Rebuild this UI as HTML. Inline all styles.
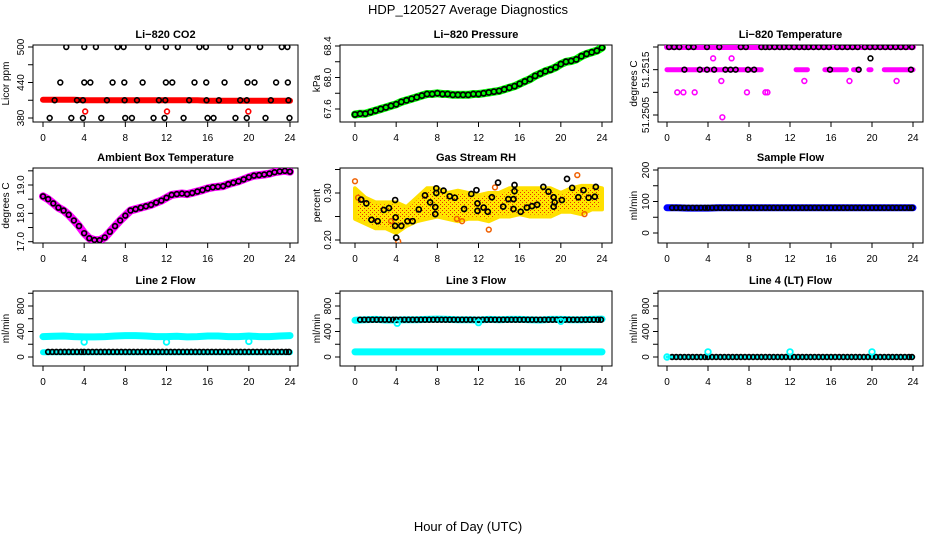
<!DOCTYPE html>
<html><head><meta charset="utf-8"><style>
html,body{margin:0;padding:0;background:#fff;}
svg{display:block;font-family:"Liberation Sans",sans-serif;}
</style></head><body>
<svg id="c" width="936" height="540" viewBox="0 0 936 540" xmlns="http://www.w3.org/2000/svg">
<rect width="936" height="540" fill="#fff"/>
<text x="468" y="14" font-size="13" text-anchor="middle">HDP_120527  Average Diagnostics</text>
<text x="468" y="531" font-size="13" text-anchor="middle">Hour of Day (UTC)</text>
</svg>
<script>
// ---------- data ----------
const hourTicks = [0,4,8,12,16,20,24];
const halfHours = [0,0.5,1,1.5,2,2.5,3,3.5,4,4.5,5,5.5,6,6.5,7,7.5,8,8.5,9,9.5,10,10.5,11,11.5,12,12.5,13,13.5,14,14.5,15,15.5,16,16.5,17,17.5,18,18.5,19,19.5,20,20.5,21,21.5,22,22.5,23,23.5,24];
const hours = [0,1,2,3,4,5,6,7,8,9,10,11,12,13,14,15,16,17,18,19,20,21,22,23,24];
const circleHours = [0.5,0.9,1.3,1.7,2.1,2.5,2.9,3.3,3.7,4,4.4,4.8,5.2,5.6,6,6.4,6.8,7.2,7.6,8,8.4,8.8,9.2,9.6,10,10.4,10.8,11.2,11.6,12,12.4,12.8,13.2,13.6,14,14.4,14.8,15.2,15.6,16,16.4,16.8,17.2,17.6,18,18.4,18.8,19.2,19.6,20,20.4,20.8,21.2,21.6,22,22.4,22.8,23.2,23.6,23.9];

const co2Band = [411,411,411,411,410,410,410,410,410,410,410,410,410,410,410,410,409,409,409,409,409,409,409,409,409];
const co2BlackHours = [2.26,4.01,5.14,7.25,7.83,10.2,11.94,13.1,15.2,15.83,18.19,19.9,21.1,23.2,23.75,
 1.68,4.01,4.6,6.76,7.9,9.68,11.94,12.56,14.72,15.86,17.64,19.87,20.55,22.65,23.79,
 1.13,3.3,3.88,6.21,7.93,9.13,11.26,11.88,14.2,15.89,17.09,19.16,19.8,22.14,23.85,
 0.65,2.75,3.88,5.66,7.99,8.64,10.74,11.81,13.66,15.99,16.57,18.7,19.8,21.62,23.95];
const co2BlackVals = [500,500,500,500,500,500,500,500,500,500,500,500,500,500,500,
 440,440,440,440,440,440,440,440,440,440,440,440,440,440,440,
 410,410,410,410,410,410,410,410,410,410,410,410,410,410,410,
 380,380,380,380,380,380,380,380,380,380,380,380,380,380,380];
const co2RedHours = [4.1,12.05,19.95];
const co2RedVals = [391,391,391];

const pressVals = [67.53,67.54,67.54,67.56,67.58,67.6,67.62,67.64,67.66,67.69,67.71,67.73,67.75,67.77,67.79,67.79,67.8,67.79,67.79,67.78,67.78,67.78,67.78,67.79,67.79,67.8,67.81,67.82,67.83,67.85,67.87,67.89,67.92,67.95,67.98,68.02,68.05,68.08,68.1,68.13,68.17,68.2,68.21,68.23,68.27,68.3,68.32,68.34,68.38];

const tTopBand = [51.2520,51.2520];
const tTopBandHours = [0,24];
const tMidSegStart = [0,12.6,15.4,18.2,19.7,21.2];
const tMidSegEnd = [9.2,13.7,17.5,18.7,19.9,24];
const tMidVal = 51.2515;
const tBlackTopHours = [0.2,0.7,1.2,2.1,2.6,3.9,5.1,7.2,7.7,9.2,9.6,10,10.5,11,11.4,11.9,12.4,12.9,13.4,13.8,14.3,14.8,15.3,15.8,16.6,17.1,17.6,18.1,18.6,19.3,19.8,20.3,20.8,21.3,21.8,22.3,22.8,23.3,23.9];
const tBlackMidHours = [1.7,3.2,3.9,4.6,5.7,6.2,6.7,7.9,8.5,15.9,18.7,23.8];
const tMagHours = [4.5,6.3,5.3,13.4,17.8,22.4,1.0,1.6,2.7,7.8,9.6,9.8,5.4];
const tMagVals = [51.25175,51.25175,51.25125,51.25125,51.25125,51.25125,51.2510,51.2510,51.2510,51.2510,51.2510,51.2510,51.25045];
const tBlackExtraHours = [19.85];
const tBlackExtraVals = [51.25175];

const ambVals = [18.6,18.5,18.35,18.2,18.1,17.95,17.75,17.55,17.3,17.12,17.06,17.05,17.15,17.35,17.55,17.75,17.92,18.1,18.15,18.2,18.25,18.3,18.38,18.45,18.55,18.65,18.68,18.7,18.68,18.72,18.77,18.82,18.88,18.92,18.94,18.96,19.03,19.08,19.13,19.2,19.27,19.33,19.35,19.37,19.4,19.45,19.48,19.5,19.47];

const rhLower = [0.245,0.235,0.225,0.225,0.215,0.23,0.24,0.245,0.25,0.245,0.24,0.245,0.245,0.24,0.25,0.25,0.255,0.25,0.25,0.25,0.26,0.26,0.255,0.265,0.265];
const rhUpper = [0.31,0.29,0.28,0.28,0.28,0.27,0.29,0.31,0.31,0.30,0.305,0.30,0.295,0.30,0.30,0.31,0.31,0.31,0.31,0.31,0.30,0.31,0.315,0.315,0.31];
const rhBlackHours = [0.6,1.1,1.6,2.2,2.8,3.3,3.9,3.95,3.9,4.0,4.5,5.1,5.6,6.2,6.8,7.3,7.8,7.8,7.9,7.9,8.6,9.2,9.7,10.6,11.3,11.8,11.9,11.9,12.5,12.9,13.3,13.9,14.4,14.9,15.4,15.5,15.5,15.4,16.1,16.7,17.2,17.7,18.3,18.8,19.3,19.4,19.3,20.1,20.6,21.1,21.7,22.2,22.7,23.3,23.4];
const rhBlackVals = [0.286,0.278,0.243,0.24,0.264,0.268,0.285,0.248,0.23,0.205,0.23,0.24,0.24,0.265,0.295,0.28,0.27,0.255,0.30,0.31,0.305,0.293,0.29,0.266,0.298,0.306,0.278,0.262,0.269,0.26,0.291,0.322,0.271,0.287,0.287,0.304,0.317,0.266,0.26,0.269,0.272,0.275,0.313,0.303,0.291,0.28,0.271,0.285,0.33,0.311,0.291,0.306,0.29,0.292,0.313];
const rhOrangeHours = [0,4.2,13,21.6,0.3,3.5,9.9,10.4,13.6,22.3];
const rhOrangeVals = [0.325,0.197,0.222,0.338,0.29,0.24,0.245,0.24,0.312,0.255];

const sampleBand = [80,80,79,79,79,80,80,80,80,80,80,80,80,80,80,80,80,80,80,80,80,80,80,80,80];
const sampleBlack = 80;
const line2Upper = [320,325,330,320,315,315,320,330,335,335,330,320,320,325,315,320,330,330,320,320,330,320,320,330,335];
const line2Lower = [75,75,75,75,75,75,75,75,75,75,75,75,75,75,75,75,75,75,75,75,75,75,75,75,75];
const line2Black = 80;
const line2OutHours = [4,12,20];
const line2OutVals = [235,235,245];
const line3Upper = [575,585,590,580,580,585,585,590,595,590,585,585,580,590,585,590,590,585,580,590,590,585,585,590,595];
const line3Lower = [80,80,80,80,80,80,80,80,80,80,80,80,80,80,80,80,80,80,80,80,80,80,80,80,80];
const line3Black = 585;
const line3OutHours = [4.1,12,20];
const line3OutVals = [530,540,560];
const line4Black = 0;
const line4OutHours = [0,4,12,20];
const line4OutVals = [0,80,80,80];

// ---------- drawing ----------
const svg = document.getElementById('c');
const NS = 'http://www.w3.org/2000/svg';
function mk(tag, attrs, parent){
  const e = document.createElementNS(NS, tag);
  for (const k in attrs) e.setAttribute(k, attrs[k]);
  (parent||svg).appendChild(e);
  return e;
}
const cols = [{bl:33,br:298,x0:43,x24:290,ylab:9},{bl:340,br:612,x0:355,x24:602,ylab:320},{bl:658,br:923,x0:667,x24:913,ylab:637}];
const rows = [{bt:45,bb:122},{bt:168,bb:243},{bt:291,bb:366}];

function panel(name, c, r, title, ylabel, yv0, yp0, yv1, yp1, yticks, ylabels){
  const C = cols[c], R = rows[r];
  const g = mk('g', {});
  
  
  const sx = h => C.x0 + (C.x24 - C.x0) * h / 24;
  const sy = v => yp0 + (yp1 - yp0) * (v - yv0) / (yv1 - yv0);
  const t = mk('text', {x:(C.bl+C.br)/2, y:R.bt-7, 'font-size':11, 'font-weight':'bold', 'text-anchor':'middle'}, g);
  t.textContent = title;
  
  
  const yl = mk('text', {x:0, y:0, 'font-size':10, 'text-anchor':'middle', transform:`translate(${C.ylab},${(R.bt+R.bb)/2}) rotate(-90)`}, g);
  yl.textContent = ylabel;
  
  
  const box = mk('rect', {x:C.bl, y:R.bt, width:C.br-C.bl, height:R.bb-R.bt, fill:'none', stroke:'#000', 'stroke-width':1}, g);
  
  
  const xa = mk('g', {}, g);
  
  
  hourTicks.forEach(h => {
    const x = sx(h);
    mk('line', {x1:x, x2:x, y1:R.bb, y2:R.bb+5, stroke:'#000'}, xa);
    const tl = mk('text', {x:x, y:R.bb+19, 'font-size':10, 'text-anchor':'middle'}, xa);
    tl.textContent = h;
  });
  const ya = mk('g', {}, g);
  
  
  yticks.forEach(v => {
    const y = sy(v);
    mk('line', {x1:C.bl-5, x2:C.bl, y1:y, y2:y, stroke:'#000'}, ya);
  });
  ylabels.forEach(([v, s]) => {
    const y = sy(v);
    const tl = mk('text', {x:0, y:0, 'font-size':10, 'text-anchor':'middle', transform:`translate(${C.bl-9},${y}) rotate(-90)`}, ya);
    tl.textContent = s;
  });
  const clip = 'clip' + name;
  const cp = mk('clipPath', {id:clip}, g);
  mk('rect', {x:C.bl, y:R.bt, width:C.br-C.bl, height:R.bb-R.bt}, cp);
  const plot = mk('g', {'clip-path':`url(#${clip})`}, g);
  return {sx, sy, plot};
}
function band(p, xs, vs, color, w, nm){
  const pts = xs.map((h,i) => p.sx(h).toFixed(1) + ',' + p.sy(vs[i]).toFixed(1)).join(' ');
  const e = mk('polyline', {points:pts, fill:'none', stroke:color, 'stroke-width':w, 'stroke-linecap':'round', 'stroke-linejoin':'round'}, p.plot);
  
  
}
function circles(p, xs, vs, color, nm, r, sw){
  const g = mk('g', {}, p.plot);
  
  
  xs.forEach((h,i) => {
    const v = Array.isArray(vs) ? vs[i] : vs;
    mk('circle', {cx:p.sx(h), cy:p.sy(v), r:r||2.4, fill:'none', stroke:color, 'stroke-width':sw||1.6}, g);
  });
}

let p = panel('panel-co2', 0, 0, 'Li\u2212820 CO2', 'Licor ppm', 500, 47, 380, 118, [380,410,440,470,500], [[380,'380'],[440,'440'],[500,'500']]);
band(p, hours, co2Band, '#f00', 6, 'co2-band');
circles(p, co2BlackHours, co2BlackVals, '#000', 'co2-points');
circles(p, co2RedHours, co2RedVals, '#f00', 'co2-red-points');

p = panel('panel-pressure', 1, 0, 'Li\u2212820 Pressure', 'kPa', 67.6, 109, 68.4, 46, [67.6,67.8,68.0,68.2,68.4], [[67.6,'67.6'],[68.0,'68.0'],[68.4,'68.4']]);
band(p, halfHours, pressVals, '#0f0', 8, 'pressure-band');
circles(p, halfHours, pressVals, '#000', 'pressure-points', 2.6, 1.7);

p = panel('panel-li820-temp', 2, 0, 'Li\u2212820 Temperature', 'degrees C', 51.2505, 115, 51.2520, 47, [51.2505,51.2510,51.2515,51.2520], [[51.2505,'51.2505'],[51.2515,'51.2515']]);
band(p, tTopBandHours, tTopBand, '#f0f', 6, 'temp-top-band');
tMidSegStart.forEach((s,i) => band(p, [s, tMidSegEnd[i]], [tMidVal, tMidVal], '#f0f', 5, 'temp-mid-band'));
circles(p, tBlackTopHours, 51.2520, '#000', 'temp-top-points');
circles(p, tBlackMidHours, tMidVal, '#000', 'temp-mid-points');
circles(p, tMagHours, tMagVals, '#f0f', 'temp-magenta-points');
circles(p, tBlackExtraHours, tBlackExtraVals, '#000', 'temp-extra-points');

p = panel('panel-ambient-temp', 0, 1, 'Ambient Box Temperature', 'degrees C', 17, 241.7, 19, 185, [17,17.5,18,18.5,19,19.5], [[17,'17.0'],[18,'18.0'],[19,'19.0']]);
band(p, halfHours, ambVals, '#f0f', 8, 'ambient-band');
circles(p, halfHours, ambVals, '#000', 'ambient-points', 2.4, 1.7);

p = panel('panel-gas-rh', 1, 1, 'Gas Stream RH', 'percent', 0.20, 240, 0.30, 193, [0.20,0.25,0.30,0.35], [[0.20,'0.20'],[0.30,'0.30']]);
(function(){
  const d = mk('defs', {}, svg);
  const pat = mk('pattern', {id:'rhpat', width:4, height:4, patternUnits:'userSpaceOnUse'}, d);
  mk('rect', {width:4, height:4, fill:'#ffe800'}, pat);
  mk('rect', {x:0, y:0, width:1, height:1, fill:'#e83000'}, pat);
  mk('rect', {x:2, y:2, width:1, height:1, fill:'#e83000'}, pat);
  const up = hours.map((h,i) => p.sx(h).toFixed(1) + ',' + p.sy(rhUpper[i]).toFixed(1));
  const lo = hours.map((h,i) => p.sx(h).toFixed(1) + ',' + p.sy(rhLower[i]).toFixed(1)).reverse();
  const poly = mk('polygon', {points:up.concat(lo).join(' '), fill:'url(#rhpat)', stroke:'#ffe000', 'stroke-width':4, 'stroke-linejoin':'round'}, p.plot);
  
  
})();
circles(p, rhOrangeHours, rhOrangeVals, '#f06000', 'rh-outliers', 2.4, 1.5);
circles(p, rhBlackHours, rhBlackVals, '#000', 'rh-points', 2.5, 1.7);

p = panel('panel-sample-flow', 2, 1, 'Sample Flow', 'ml/min', 0, 233, 200, 170, [0,50,100,150,200], [[0,'0'],[100,'100'],[200,'200']]);
band(p, hours, sampleBand, '#00f', 7, 'sample-band');
circles(p, circleHours, sampleBlack, '#000', 'sample-points', 2.4, 1.6);

p = panel('panel-line2-flow', 0, 2, 'Line 2 Flow', 'ml/min', 0, 357, 800, 306, [0,200,400,600,800,1000], [[0,'0'],[400,'400'],[800,'800']]);
band(p, hours, line2Upper, '#0ff', 7, 'line2-upper-band');
band(p, hours, line2Lower, '#0ff', 6, 'line2-lower-band');
circles(p, circleHours, line2Black, '#000', 'line2-points', 2.4, 1.7);
circles(p, line2OutHours, line2OutVals, '#0ff', 'line2-outliers', 2.8, 1.8);

p = panel('panel-line3-flow', 1, 2, 'Line 3 Flow', 'ml/min', 0, 357, 800, 306, [0,200,400,600,800,1000], [[0,'0'],[400,'400'],[800,'800']]);
band(p, hours, line3Upper, '#0ff', 7, 'line3-upper-band');
band(p, hours, line3Lower, '#0ff', 7, 'line3-lower-band');
circles(p, circleHours, line3Black, '#000', 'line3-points', 2.4, 1.7);
circles(p, line3OutHours, line3OutVals, '#0ff', 'line3-outliers', 2.8, 1.8);

p = panel('panel-line4-flow', 2, 2, 'Line 4 (LT) Flow', 'ml/min', 0, 357, 800, 306, [0,200,400,600,800,1000], [[0,'0'],[400,'400'],[800,'800']]);
band(p, [0,24], [0,0], '#0ff', 3, 'line4-band');
circles(p, circleHours, line4Black, '#000', 'line4-points', 2.4, 1.7);
circles(p, line4OutHours, line4OutVals, '#0ff', 'line4-outliers', 2.8, 1.8);
</script>
</body></html>
